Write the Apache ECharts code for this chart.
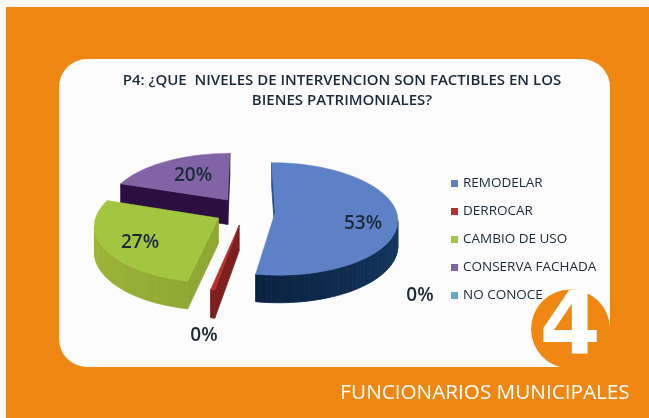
<!DOCTYPE html>
<html><head><meta charset="utf-8">
<style>html,body{margin:0;padding:0;background:#fafafa}#c{width:649px;height:418px;filter:blur(0.5px)}</style>
<script src="https://cdn.jsdelivr.net/npm/echarts@6/dist/echarts.min.js"></script>
</head><body><div id="c"></div>
<script>
const categories = ['REMODELAR','DERROCAR','CAMBIO DE USO','CONSERVA FACHADA','NO CONOCE'];
const values = [53, 0.5, 27, 20, 0];
const topColors = ['#5E80C6','#B5302E','#A2C63F','#8263A6','#5FA9D3'];
const wallStart = ['#1F5288','#7E1F1D','#8FA833','#2A0F40','#3A7FA5'];
const wallEnd = ['#0B2240','#7E1F1D','#A5BE3C','#2A0F40','#3A7FA5'];
const titleLines = ['P4: ¿QUE  NIVELES DE INTERVENCION SON FACTIBLES EN LOS','BIENES PATRIMONIALES?'];
const footer = 'FUNCIONARIOS MUNICIPALES';
const badge = '4';

const total = values.reduce((a,b)=>a+b,0);
const PIE = {cx:245, cy:211, rx:121, ry:56, p:0.12, depth:25, explode:0.25};
const LABEL_AT = [[363,224],[204,336],[140,243],[193,176],[420,296]];
const ORANGE = '#F08712', INK = '#1B2A3A';

function project(u,v,d){
  const s = 1+PIE.p*v;
  return [PIE.cx+PIE.rx*u*s, PIE.cy+PIE.ry*v*s+(d||0)*(1+0.1*v)];
}
function lerpColor(a,b,t){
  const pa=parseInt(a.slice(1),16), pb=parseInt(b.slice(1),16);
  const ch=s=>Math.round(((pa>>s)&255)*(1-t)+((pb>>s)&255)*t);
  return `rgb(${ch(16)},${ch(8)},${ch(0)})`;
}
function sliceShape(idx){
  let before=0; for(let i=0;i<idx;i++) before+=values[i];
  const a0=before/total*2*Math.PI, a1=(before+values[idx])/total*2*Math.PI, mid=(a0+a1)/2;
  const ox=Math.sin(mid)*PIE.explode, oy=-Math.cos(mid)*PIE.explode;
  const outline=[[ox,oy]];
  const n=Math.max(2,Math.ceil((a1-a0)/0.04));
  for(let i=0;i<=n;i++){const t=a0+(a1-a0)*i/n; outline.push([ox+Math.sin(t),oy-Math.cos(t)]);}
  return outline;
}
function renderSlice(idx){
  return function(){
    const children=[];
    if(values[idx]>0){
      const o=sliceShape(idx);
      const m=o.length;
      const faces=[];
      for(let i=0;i<m;i++){
        const a=o[i], b=o[(i+1)%m];
        const pa=project(a[0],a[1]), pb=project(b[0],b[1]);
        if(pb[0]-pa[0]>=0) continue;
        const c=lerpColor(wallStart[idx],wallEnd[idx],i/(m-1));
        faces.push({y:(pa[1]+pb[1])/2,c,pts:[pa,pb,project(b[0],b[1],PIE.depth),project(a[0],a[1],PIE.depth)]});
      }
      faces.sort((f,g)=>f.y-g.y);
      faces.forEach(f=>children.push({type:'polygon',shape:{points:f.pts},style:{fill:f.c,stroke:f.c,lineWidth:0.8}}));
      children.push({type:'polygon',shape:{points:o.map(q=>project(q[0],q[1]))},style:{fill:topColors[idx],stroke:topColors[idx],lineWidth:0.5}});
    }
    const L=LABEL_AT[idx];
    children.push({type:'text',z2:100,style:{x:L[0],y:L[1],text:Math.round(values[idx]/total*100)+'%',align:'center',verticalAlign:'middle',fill:INK,font:'600 19px "Open Sans"'}});
    return {type:'group',children};
  };
}
const chart=echarts.init(document.getElementById('c'),null,{renderer:'canvas'});
chart.setOption({
  animation:false,
  backgroundColor:'#FAFAFA',
  legend:{orient:'vertical',left:446,top:169.5,itemWidth:7,itemHeight:7,itemGap:10,icon:'rect',
    data:categories,selectedMode:false,
    textStyle:{color:INK,fontSize:13.5,lineHeight:18,fontFamily:'Open Sans',fontWeight:500,padding:[0,0,0,0]}},
  graphic:[
    {type:'rect',z:-10,silent:true,shape:{x:6,y:7,width:643,height:411},style:{fill:ORANGE}},
    {type:'rect',z:-9,silent:true,shape:{x:59,y:59,width:551,height:308,r:[28,28,48,28]},style:{fill:'#FCFCFC'}},
    {type:'text',z:5,style:{x:342,y:81,text:titleLines[0],align:'center',verticalAlign:'middle',fill:INK,font:'600 15px "Open Sans"'}},
    {type:'text',z:5,style:{x:342,y:101,text:titleLines[1],align:'center',verticalAlign:'middle',fill:INK,font:'600 15px "Open Sans"'}},
    {type:'circle',z:20,silent:true,shape:{cx:570.5,cy:329,r:39.5},style:{fill:ORANGE}},
    {type:'text',z:21,style:{x:570,y:331,text:badge,align:'center',verticalAlign:'middle',fill:'#FFFFFF',font:'900 88px "DejaVu Sans"'}},
    {type:'text',z:21,style:{x:485,y:393,text:footer,align:'center',verticalAlign:'middle',fill:'#FFFFFF',font:'500 20.7px "Open Sans"'}}
  ],
  series:categories.map((name,i)=>({
    name,type:'custom',coordinateSystem:'none',z:2+[3,4,3,1,0][i],
    itemStyle:{color:topColors[i]},silent:true,
    data:[[values[i]]],renderItem:renderSlice(i)
  }))
});
</script></body></html>
